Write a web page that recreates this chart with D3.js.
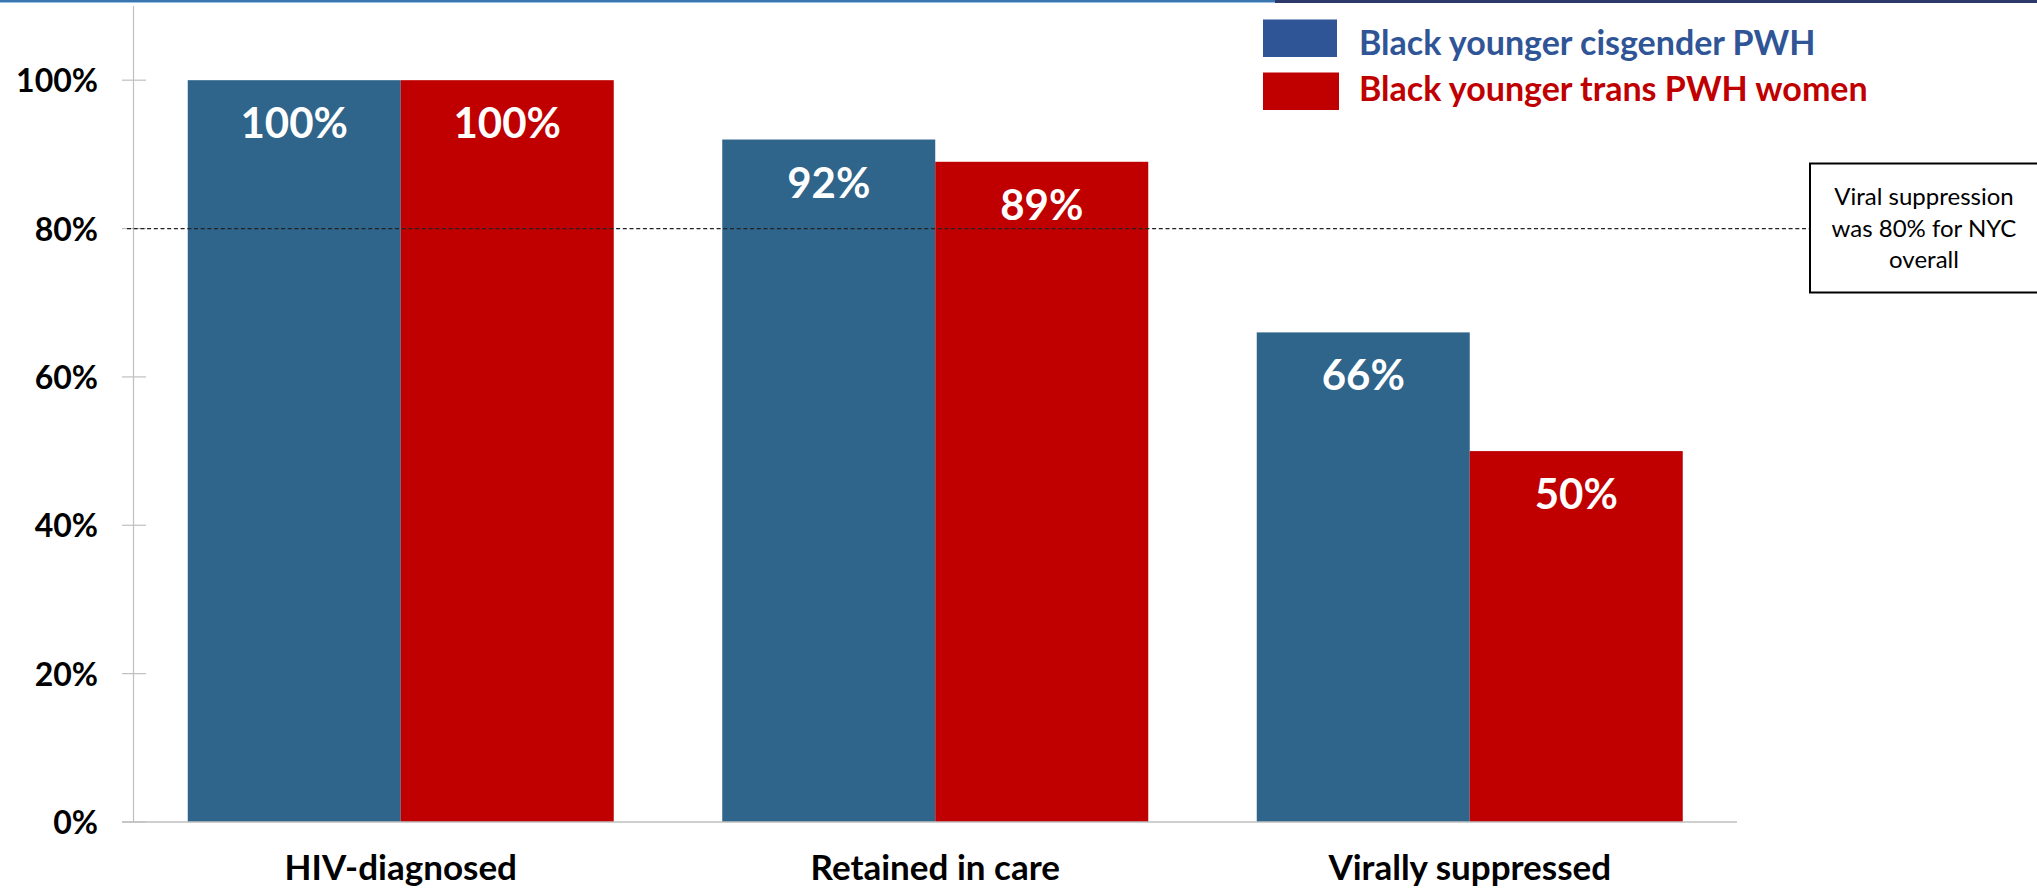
<!DOCTYPE html>
<html>
<head>
<meta charset="utf-8">
<script src="https://cdn.jsdelivr.net/npm/d3@7"></script>
<style>
  html, body { margin: 0; padding: 0; background: #ffffff; }
  svg { display: block; }
  text { font-family: Lato, "Open Sans", sans-serif; }
</style>
</head>
<body>
<svg id="chart" width="2037" height="888"></svg>
<script>
// Care continuum data (percent of people with HIV)
const categories = ["HIV-diagnosed", "Retained in care", "Virally suppressed"];
const seriesNames = ["Black younger cisgender PWH", "Black younger trans PWH women"];
const cisgenderValues = [100, 92, 66];
const transWomenValues = [100, 89, 50];
const yTicks = [0, 20, 40, 60, 80, 100];
const referenceValue = 80;
const referenceNote = ["Viral suppression", "was 80% for NYC", "overall"];

const seriesColors = ["#2F648B", "#C00000"];
const legendColors = ["#2F5597", "#C00000"];

const svg = d3.select("#chart");
const W = 2037, H = 888;

// Header rule across the top
svg.append("rect").attr("x", 0).attr("y", 0).attr("width", 1275).attr("height", 2).attr("fill", "#3A76B0");
svg.append("rect").attr("x", 0).attr("y", 2).attr("width", 1275).attr("height", 1).attr("fill", "#9CC0E2");
svg.append("rect").attr("x", 1275).attr("y", 0).attr("width", W - 1275).attr("height", 3).attr("fill", "#2D3A69");

// Scales
const plotLeft = 133.5, plotRight = 1737, plotTop = 6, plotBottom = 822;
const y = d3.scaleLinear().domain([0, 110]).range([plotBottom, plotTop]);
const x0 = d3.scaleBand().domain(categories).range([plotLeft, plotRight])
  .paddingInner(0.203).paddingOuter(0.1015);
const x1 = d3.scaleBand().domain(seriesNames).range([0, x0.bandwidth()]);

const rows = categories.map((c, i) => ({
  category: c,
  values: [
    { series: seriesNames[0], value: cisgenderValues[i], color: seriesColors[0] },
    { series: seriesNames[1], value: transWomenValues[i], color: seriesColors[1] }
  ]
}));

// Y axis
const yAxis = d3.axisLeft(y).tickValues(yTicks).tickSize(0).tickFormat(d => d + "%");
const yAxisG = svg.append("g").attr("transform", `translate(${plotLeft},0)`).call(yAxis);
yAxisG.select(".domain").remove();
yAxisG.selectAll("text")
  .attr("x", -35.5)
  .attr("dy", "0.36em")
  .attr("fill", "#000")
  .style("font-family", "Lato, sans-serif")
  .style("font-weight", "700")
  .style("font-size", "32px");
svg.append("line").attr("x1", plotLeft).attr("x2", plotLeft)
  .attr("y1", plotTop).attr("y2", plotBottom)
  .attr("stroke", "#BFBFBF").attr("stroke-width", 1.2);
svg.append("g").selectAll("line").data(yTicks).join("line")
  .attr("x1", plotLeft - 11.5).attr("x2", plotLeft + 12.5)
  .attr("y1", d => y(d)).attr("y2", d => y(d))
  .attr("stroke", "#BFBFBF").attr("stroke-width", 1.2);

// Bars
const groups = svg.append("g").selectAll("g").data(rows).join("g")
  .attr("transform", d => `translate(${x0(d.category)},0)`);
groups.selectAll("rect").data(d => d.values).join("rect")
  .attr("x", d => x1(d.series))
  .attr("y", d => y(d.value))
  .attr("width", x1.bandwidth())
  .attr("height", d => y(0) - y(d.value))
  .attr("fill", d => d.color);

// Value labels inside bars
groups.selectAll("text.value").data(d => d.values).join("text")
  .attr("class", "value")
  .attr("x", d => x1(d.series) + x1.bandwidth() / 2)
  .attr("y", d => y(d.value) + 58)
  .attr("text-anchor", "middle")
  .attr("fill", "#fff")
  .style("font-weight", "700")
  .style("font-size", "42px")
  .text(d => d.value + "%");

// X axis baseline
svg.append("line").attr("x1", plotLeft - 11.5).attr("x2", plotRight)
  .attr("y1", y(0)).attr("y2", y(0))
  .attr("stroke", "#BFBFBF").attr("stroke-width", 1.5);

// Category labels
const xAxis = d3.axisBottom(x0).tickSize(0);
const xAxisG = svg.append("g").attr("transform", `translate(0,${plotBottom})`).call(xAxis);
xAxisG.select(".domain").remove();
xAxisG.selectAll("text")
  .attr("y", 58).attr("dy", 0)
  .attr("fill", "#000")
  .style("font-family", "Lato, sans-serif")
  .style("font-weight", "700")
  .style("font-size", "35px");

// NYC reference line and note
const boxX = 1810, boxY = 163.5, boxW = 228, boxH = 129;
svg.append("line")
  .attr("x1", plotLeft - 6.5).attr("x2", boxX)
  .attr("y1", y(referenceValue)).attr("y2", y(referenceValue))
  .attr("stroke", "#222").attr("stroke-width", 1.2)
  .attr("stroke-dasharray", "4,2.7");
svg.append("rect").attr("x", boxX).attr("y", boxY).attr("width", boxW).attr("height", boxH)
  .attr("fill", "#fff").attr("stroke", "#000").attr("stroke-width", 2);
svg.append("g").selectAll("text").data(referenceNote).join("text")
  .attr("x", boxX + boxW / 2)
  .attr("y", (d, i) => 205 + i * 31.5)
  .attr("text-anchor", "middle")
  .attr("fill", "#000")
  .style("font-weight", "400")
  .style("font-size", "24px")
  .text(d => d);

// Legend
const legend = svg.append("g").selectAll("g").data(seriesNames).join("g")
  .attr("transform", (d, i) => `translate(1263,${i === 0 ? 19.5 : 72.5})`);
legend.append("rect")
  .attr("width", (d, i) => i === 0 ? 74 : 76).attr("height", 37.5)
  .attr("fill", (d, i) => legendColors[i]);
legend.append("text")
  .attr("x", 96).attr("y", (d, i) => i === 0 ? 35 : 28)
  .attr("fill", (d, i) => legendColors[i])
  .style("font-weight", "700")
  .style("font-size", "34px")
  .text(d => d);
</script>
</body>
</html>
